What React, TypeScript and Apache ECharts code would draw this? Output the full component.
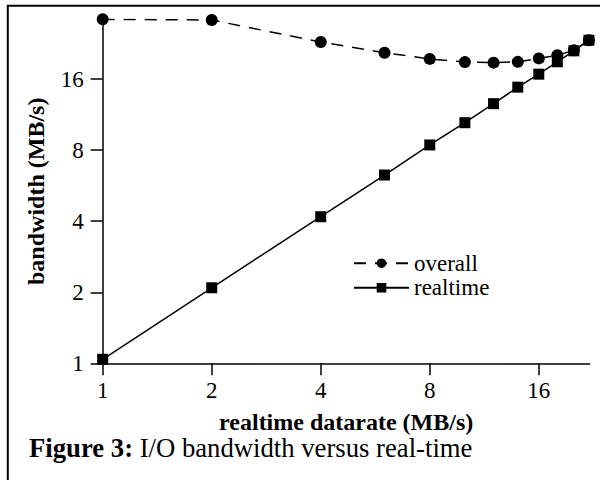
import React, { useEffect, useRef } from "react";
import * as echarts from "echarts";

const datarate = [1, 2, 4, 6, 8, 10, 12, 14, 16, 18, 20, 22];
const overall = [28.7, 28.5, 23.0, 20.7, 19.5, 18.9, 18.8, 18.95, 19.6, 20.2, 21.2, 23.4];
const realtime = [1.04, 2.09, 4.18, 6.28, 8.42, 10.46, 12.6, 14.8, 16.8, 18.96, 21.1, 23.4];
const xTicks = [1, 2, 4, 8, 16];
const yTicks = [1, 2, 4, 8, 16];
const seriesNames = ["overall", "realtime"];
const xTitle = "realtime datarate (MB/s)";
const yTitle = "bandwidth (MB/s)";
const captionBold = "Figure 3:";
const captionText = " I/O bandwidth versus real-time";

const FONT = "'Liberation Serif', 'Times New Roman', serif";

export default function App() {
  const ref = useRef<HTMLDivElement>(null);
  useEffect(() => {
    if (!ref.current) return;
    const chart = echarts.init(ref.current, null, { renderer: "svg" });
    const axisCommon = {
      type: "log" as const,
      logBase: 2,
      axisLine: { show: true, lineStyle: { color: "#000", width: 1.5 } },
      axisTick: { show: true, length: 12, lineStyle: { color: "#000", width: 1.5 } },
      splitLine: { show: false },
      minorTick: { show: false },
      nameLocation: "middle" as const,
      nameTextStyle: { fontFamily: FONT, fontSize: 24, fontWeight: "bold", color: "#000" },
    };
    chart.setOption({
      animation: false,
      backgroundColor: "#fff",
      grid: {
        left: 102.7,
        right: 10.4,
        top: 19.3,
        bottom: 116.7,
        containLabel: false,
        outerBoundsMode: "none",
      },
      xAxis: {
        ...axisCommon,
        min: 1,
        max: 22.1,
        name: xTitle,
        nameGap: 46.5,
        axisTick: { ...axisCommon.axisTick, customValues: xTicks },
        axisLabel: {
          customValues: xTicks,
          fontFamily: FONT,
          fontSize: 23,
          color: "#000",
          margin: 15.5,
        },
      },
      yAxis: {
        ...axisCommon,
        min: 1,
        max: 28.7,
        name: yTitle,
        nameGap: 55,
        nameRotate: 90,
        axisTick: { ...axisCommon.axisTick, customValues: yTicks },
        axisLabel: {
          customValues: yTicks,
          fontFamily: FONT,
          fontSize: 23,
          color: "#000",
          margin: 19,
        },
      },
      legend: {
        orient: "vertical",
        left: 353,
        top: 251.7,
        padding: 0,
        itemWidth: 55,
        itemHeight: 12,
        itemGap: 1.6,
        selectedMode: false,
        data: seriesNames,
        textStyle: { fontFamily: FONT, fontSize: 23, color: "#000", lineHeight: 20 },
      },
      series: [
        {
          name: seriesNames[0],
          type: "line",
          data: datarate.map((x, i) => [x, overall[i]]),
          symbol: "circle",
          symbolSize: 12,
          itemStyle: { color: "#000" },
          lineStyle: { color: "#000", width: 1.5, type: [12, 9] },
          z: 2,
        },
        {
          name: seriesNames[1],
          type: "line",
          data: datarate.map((x, i) => [x, realtime[i]]),
          symbol: "rect",
          symbolSize: 11,
          itemStyle: { color: "#000" },
          lineStyle: { color: "#000", width: 1.5, type: "solid" },
          z: 3,
        },
      ],
      graphic: [
        {
          type: "rect",
          silent: true,
          shape: { x: 7.8, y: 5.7, width: 700, height: 600 },
          style: { fill: "none", stroke: "#000", lineWidth: 2 },
        },
        {
          type: "text",
          silent: true,
          x: 29,
          y: 448,
          style: {
            text: "{b|" + captionBold + "}{r|" + captionText + "}",
            verticalAlign: "middle",
            align: "left",
            fill: "#000",
            fontFamily: FONT,
            fontSize: 26.7,
            rich: {
              b: { fontFamily: FONT, fontSize: 26.7, fontWeight: "bold", fill: "#000" },
              r: { fontFamily: FONT, fontSize: 26.7, fill: "#000" },
            },
          },
        },
      ],
    });
    return () => chart.dispose();
  }, []);
  return (
    <div
      ref={ref}
      style={{ position: "fixed", left: 0, top: 0, width: 600, height: 480, background: "#fff" }}
    />
  );
}
